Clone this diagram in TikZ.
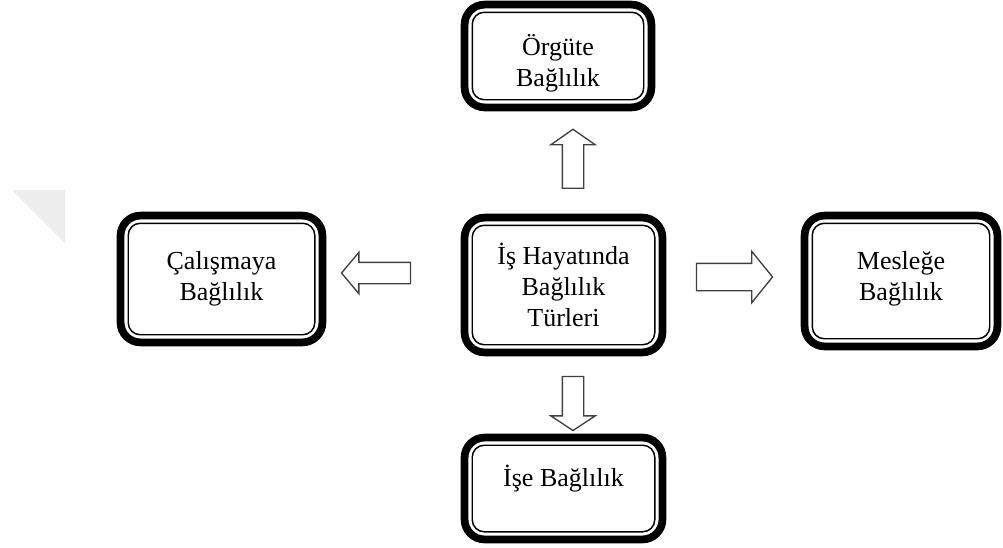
\documentclass[tikz,border=0pt]{standalone}
\usepackage{fontspec}
\setmainfont{Liberation Serif}
\usepackage{tikz}
\usetikzlibrary{shapes.arrows, fit}

\begin{document}
\begin{tikzpicture}[
    x=0.75pt, y=-0.75pt,
    every node/.style={font=\fontsize{19.5}{23.3}\selectfont},
    kutu/.style={draw=black, line width=1.1pt, fill=white, rounded corners=9pt, align=center, inner sep=0pt},
    halka/.style={draw=black, line width=5.8pt, rounded corners=15pt, inner sep=5.2pt},
    ok/.style={single arrow, draw=black!75, line width=1pt, fill=white, inner sep=7.5pt, single arrow head extend=8.6pt}
]
    \useasboundingbox (0,0) rectangle (1003,547);

    % Soluk ucgen (sol kenar)
    \fill[gray!14] (12,190) -- (65,190) -- (65,243) -- cycle;

    % Kutular
    \node[kutu, minimum width=136.9pt, minimum height=89.6pt] (merkez) at (563.5,285) {\.Iş Hayatında\\Bağlılık\\Türleri};
    \node[kutu, minimum width=128.6pt, minimum height=65.6pt, text height=50pt] (orgut) at (558,56) {Örgüte\\Bağlılık};
    \node[kutu, minimum width=139.9pt, minimum height=83.6pt] (calisma) at (221.5,279) {Çalışmaya\\Bağlılık};
    \node[kutu, minimum width=133.1pt, minimum height=86.6pt, text depth=8pt] (meslek) at (901,281) {Mesleğe\\Bağlılık};
    \node[kutu, minimum width=136.9pt, minimum height=64.9pt, text depth=19pt] (isb) at (563.5,488.5) {\.Işe Bağlılık};

    % Kalin dis cerceve
    \foreach \k in {merkez, orgut, calisma, meslek, isb}
        \node[halka, fit=(\k)] {};

    % Blok oklar
    \node[ok, rotate=90, minimum height=44.25pt, single arrow tip angle=110] (okust) at (573,162.5) {};
    \node[ok, rotate=-90, minimum height=40.5pt, single arrow tip angle=113] (okalt) at (573,400) {};
    \node[ok, rotate=180, minimum height=51.75pt, single arrow head extend=7.5pt, single arrow tip angle=100] (oksol) at (380.5,273) {};
    \node[ok, minimum height=57pt, inner sep=9.75pt, single arrow head extend=9pt, single arrow tip angle=102] (oksag) at (729,277) {};

\end{tikzpicture}
\end{document}
